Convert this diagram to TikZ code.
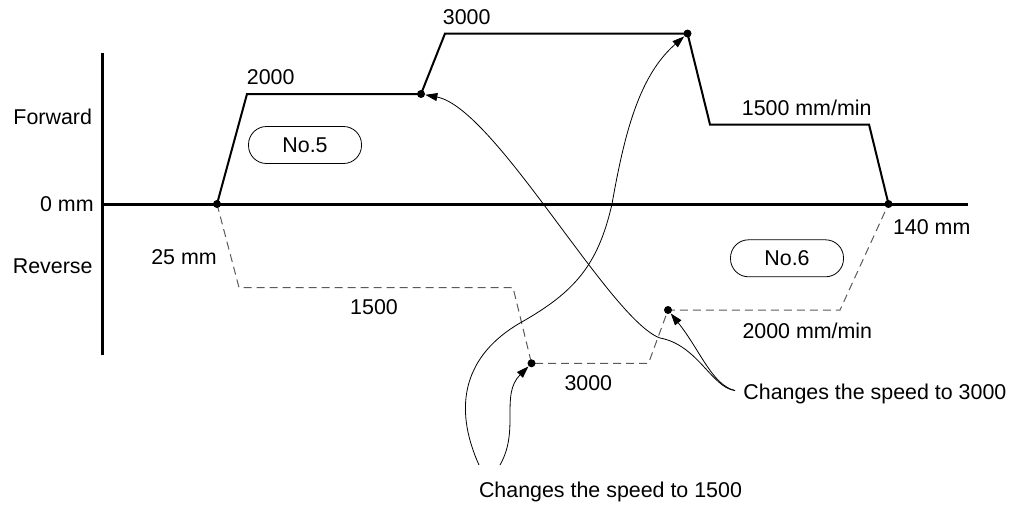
\documentclass[tikz,border=0pt]{standalone}
\usepackage{fontspec}
\setmainfont{Liberation Sans}
\usetikzlibrary{arrows.meta,calc}
\definecolor{revgray}{RGB}{90,90,90}
\tikzset{
  lbl/.style={inner sep=0pt,font=\fontsize{10.7}{12}\selectfont},
  axisline/.style={line width=1.5pt},
  fwdline/.style={line width=1pt},
  revline/.style={line width=0.5pt,revgray,dash pattern=on 4pt off 2.5pt},
  dotpt/.style={circle,fill,inner sep=0pt,minimum size=4pt},
  pill/.style={lbl,draw,line width=0.4pt,rounded corners=9pt,minimum width=56.5pt,minimum height=18.5pt},
  hint/.style={line width=0.4pt,-{Triangle[length=6pt,width=4pt]}}
}

\begin{document}
\begin{tikzpicture}[x=0.5pt,y=-0.5pt]
\useasboundingbox (0,0) rectangle (1020,504);
% axes
\coordinate (ytop) at (102.5,52.5);
\coordinate (ybot) at (102.5,355);
\coordinate (xorg) at (102.5,204);
\coordinate (xend) at (968,204);
\draw[axisline] (ytop) -- (ybot);
\draw[axisline] (xorg) -- (xend);
\node[lbl] (fwd) at (52.7,116.7) {Forward};
\node[lbl,anchor=east] (zero) at (94,204) {0 mm};
\node[lbl] (rev) at (52.7,266.7) {Reverse};
% speed profiles
\coordinate (p0) at (217,204);
\coordinate (p1) at (421,94);
\coordinate (p2) at (687.5,33.5);
\coordinate (p3) at (888.5,204);
\coordinate (q1) at (531.5,363.3);
\coordinate (q2) at (668,310);
\draw[fwdline] (p0) -- (247,94) -- (p1) -- (445,33.5) -- (p2) -- (710,124.5) -- (869,124.5) -- (p3);
\draw[revline] (p0) -- (239,287.5) -- (513,287.5) -- (q1) -- (648.5,363.3) -- (q2) -- (840,310) -- (p3);
\foreach \n in {p0,p1,p2,p3,q1,q2}
  \node[dotpt] (d\n) at (\n) {};
\foreach \x/\y/\t [count=\i] in {
270.7/77.3/2000, 466.7/16.7/3000, 806.7/108.3/{1500 mm/min},
374/307/1500, 588.3/382.7/3000, 807.3/330.7/{2000 mm/min},
184/256.7/{25 mm}, 931.7/227.3/{140 mm}}
  \node[lbl] (val\i) at (\x,\y) {\t};
\node[pill] (no5) at (305,145) {No.5};
\node[pill] (no6) at (787,258.3) {No.6};
% speed change notes
\node[lbl,anchor=west] (chg3) at (743,393.5) {Changes the speed to 3000};
\node[lbl] (chg15) at (610.5,492) {Changes the speed to 1500};
\coordinate (fromA) at ([xshift=-4pt,yshift=1.5pt]chg3.west);
\coordinate (fromC) at (479,465);
\coordinate (fromD) at (500,465);
\draw[hint] (fromA) .. controls (712,388) and (698,345) .. (660,338)
  .. controls (610,320) and (495,108) .. (dp1);
\draw[hint] (fromA) .. controls (712,385) and (700,350) .. (dq2);
\draw[hint] (fromC) .. controls (452,405) and (465,355) .. (520,323)
  .. controls (575,292) and (598,265) .. (612,204)
  .. controls (625,130) and (640,75) .. (dp2);
\draw[hint] (fromD) .. controls (520,430) and (500,395) .. (dq1);
\end{tikzpicture}
\end{document}
